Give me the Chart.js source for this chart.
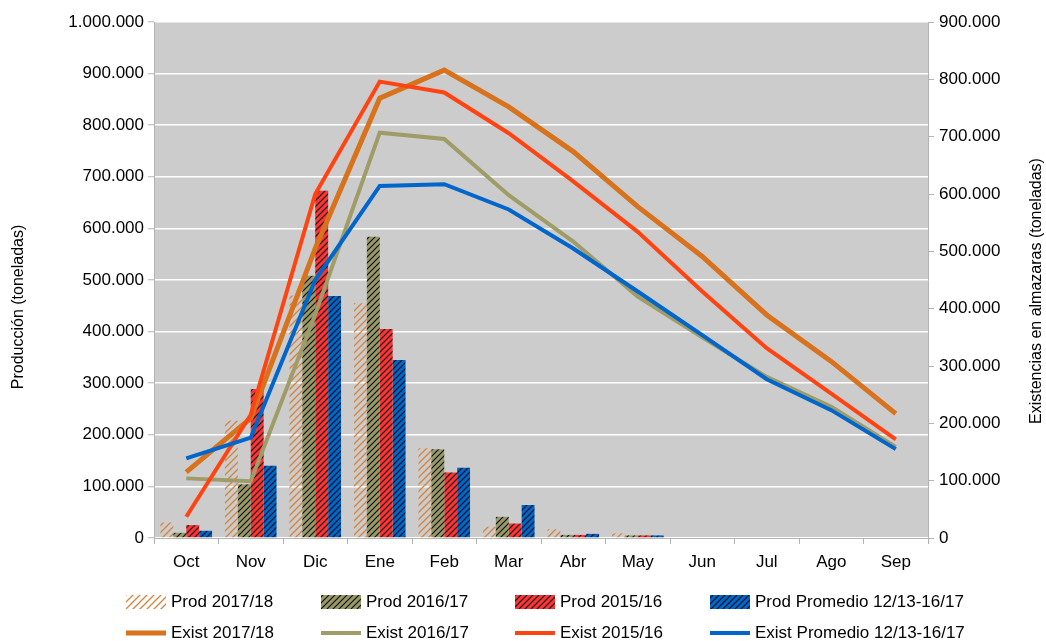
<!DOCTYPE html>
<html>
<head>
<meta charset="utf-8">
<script src="https://cdn.jsdelivr.net/npm/chart.js@4/dist/chart.umd.min.js"></script>
<style>
  html, body { margin: 0; padding: 0; background: #fff; }
  #wrap { width: 1046px; height: 641px; }
</style>
</head>
<body>
<div id="wrap"><canvas id="grafico" width="1046" height="641"></canvas></div>
<script>
const meses = ['Oct', 'Nov', 'Dic', 'Ene', 'Feb', 'Mar', 'Abr', 'May', 'Jun', 'Jul', 'Ago', 'Sep'];

// produccion (eje izquierdo)
const prod1718 = [30000, 227000, 470000, 455000, 174000, 22000, 17000, 9000, null, null, null, null];
const prod1617 = [10000, 104000, 508000, 584000, 172000, 41000, 6000, 5000, null, null, null, null];
const prod1516 = [25000, 289000, 673000, 405000, 127000, 28000, 6000, 5000, null, null, null, null];
const prodPromedio = [14000, 140000, 469000, 345000, 136000, 64000, 8000, 5000, null, null, null, null];

// existencias (eje derecho)
const exist1718 = [115000, 209000, 505000, 767000, 816000, 752000, 674000, 578000, 491000, 389000, 308000, 217000];
const exist1617 = [104000, 99000, 390000, 707000, 696000, 598000, 517000, 421000, 350000, 281000, 229000, 159000];
const exist1516 = [37000, 215000, 600000, 796000, 777000, 706000, 622000, 534000, 430000, 331000, 252000, 172000];
const existPromedio = [139000, 175000, 450000, 614000, 617000, 573000, 505000, 430000, 354000, 277000, 223000, 155000];

const ticksIzq = { min: 0, max: 1000000, step: 100000 };
const ticksDer = { min: 0, max: 900000, step: 100000 };

function miles(v) {
    return String(v).replace(/\B(?=(\d{3})+(?!\d))/g, '.');
}

function rayado(fondo, color, size, lw) {
    const c = document.createElement('canvas');
    c.width = c.height = size;
    const x = c.getContext('2d');
    if (fondo) {
        x.fillStyle = fondo;
        x.fillRect(0, 0, size, size);
    }
    x.strokeStyle = color;
    x.lineWidth = lw;
    x.beginPath();
    x.moveTo(0, size); x.lineTo(size, 0);
    x.moveTo(-size / 2, size / 2); x.lineTo(size / 2, -size / 2);
    x.moveTo(size / 2, size * 1.5); x.lineTo(size * 1.5, size / 2);
    x.stroke();
    return x.createPattern(c, 'repeat');
}

const FONT = "'Liberation Sans', Arial, sans-serif";
Chart.defaults.font.family = FONT;
Chart.defaults.font.size = 17;
Chart.defaults.color = '#000';

const fondoPlot = {
    id: 'fondoPlot',
    beforeDraw(chart) {
        const { ctx, chartArea: a } = chart;
        ctx.save();
        ctx.fillStyle = '#cccccc';
        ctx.fillRect(a.left, a.top, a.right - a.left, a.bottom - a.top);
        ctx.restore();
    }
};

const titulosEjes = {
    id: 'titulosEjes',
    afterDraw(chart) {
        const ctx = chart.ctx;
        ctx.save();
        ctx.font = '16px ' + FONT;
        ctx.fillStyle = '#000';
        ctx.textAlign = 'center';
        ctx.textBaseline = 'middle';
        ctx.translate(19, 307);
        ctx.rotate(-Math.PI / 2);
        ctx.fillText('Producción (toneladas)', 0, 0);
        ctx.restore();
        ctx.save();
        ctx.font = '16px ' + FONT;
        ctx.fillStyle = '#000';
        ctx.textAlign = 'center';
        ctx.textBaseline = 'middle';
        ctx.translate(1037, 291);
        ctx.rotate(-Math.PI / 2);
        ctx.fillText('Existencias en almazaras (toneladas)', 0, 0);
        ctx.restore();
    }
};

// leyenda en rejilla de 4 columnas, como la original
const leyenda = {
    id: 'leyenda',
    afterDraw(chart) {
        const ctx = chart.ctx;
        const cols = [126, 321, 515, 710];
        const filas = [602, 633];
        ctx.save();
        ctx.font = '17px ' + FONT;
        ctx.textBaseline = 'middle';
        ctx.textAlign = 'left';
        chart.data.datasets.forEach((ds, n) => {
            const x = cols[n % 4];
            const y = filas[Math.floor(n / 4)];
            if (ds.type === 'line') {
                ctx.strokeStyle = ds.borderColor;
                ctx.lineWidth = ds.borderWidth;
                ctx.beginPath();
                ctx.moveTo(x, y);
                ctx.lineTo(x + 40, y);
                ctx.stroke();
            } else {
                ctx.fillStyle = ds.backgroundColor;
                ctx.fillRect(x, y - 7, 40, 14);
            }
            ctx.fillStyle = '#000';
            ctx.fillText(ds.label, x + 45, y);
        });
        ctx.restore();
    }
};

const ctx = document.getElementById('grafico').getContext('2d');

const grafico = new Chart(ctx, {
    data: {
        labels: meses,
        datasets: [
            { type: 'bar', label: 'Prod 2017/18', data: prod1718, yAxisID: 'y', order: 10,
              backgroundColor: rayado(null, '#d4843f', 7, 1.3) },
            { type: 'bar', label: 'Prod 2016/17', data: prod1617, yAxisID: 'y', order: 10,
              backgroundColor: rayado('#999966', '#111', 6, 1.2) },
            { type: 'bar', label: 'Prod 2015/16', data: prod1516, yAxisID: 'y', order: 10,
              backgroundColor: rayado('#ff3333', '#111', 6, 1.2) },
            { type: 'bar', label: 'Prod Promedio 12/13-16/17', data: prodPromedio, yAxisID: 'y', order: 10,
              backgroundColor: rayado('#0066cc', '#111', 6, 1.2) },
            { type: 'line', label: 'Exist 2017/18', data: exist1718, yAxisID: 'y1', order: 4,
              borderColor: '#d8721c', borderWidth: 5, pointRadius: 0, tension: 0, fill: false },
            { type: 'line', label: 'Exist 2016/17', data: exist1617, yAxisID: 'y1', order: 3,
              borderColor: '#9f9c68', borderWidth: 4, pointRadius: 0, tension: 0, fill: false },
            { type: 'line', label: 'Exist 2015/16', data: exist1516, yAxisID: 'y1', order: 2,
              borderColor: '#ff4411', borderWidth: 4, pointRadius: 0, tension: 0, fill: false },
            { type: 'line', label: 'Exist Promedio 12/13-16/17', data: existPromedio, yAxisID: 'y1', order: 1,
              borderColor: '#0066cc', borderWidth: 4, pointRadius: 0, tension: 0, fill: false }
        ]
    },
    options: {
        responsive: false,
        animation: false,
        datasets: { bar: { categoryPercentage: 0.8, barPercentage: 1.0, borderWidth: 0 } },
        layout: { padding: { top: 22, bottom: 63, left: 0, right: 0 } },
        plugins: {
            legend: { display: false },
            tooltip: { enabled: false }
        },
        scales: {
            x: {
                offset: true,
                grid: { offset: true, drawOnChartArea: false, tickLength: 6, tickColor: '#b3b3b3' },
                border: { color: '#b3b3b3' },
                ticks: { maxRotation: 0, padding: 8 },
                afterFit(s) { s.height = 40; }
            },
            y: {
                position: 'left',
                min: ticksIzq.min,
                max: ticksIzq.max,
                grid: { color: '#ffffff', lineWidth: 1.5, tickLength: 6, tickColor: '#b3b3b3', tickWidth: 1 },
                border: { color: '#b3b3b3' },
                ticks: { stepSize: ticksIzq.step, padding: 4, callback: v => miles(v) },
                afterFit(s) { s.width = 154; }
            },
            y1: {
                position: 'right',
                min: ticksDer.min,
                max: ticksDer.max,
                grid: { drawOnChartArea: false, tickLength: 6, tickColor: '#b3b3b3' },
                border: { color: '#b3b3b3' },
                ticks: { stepSize: ticksDer.step, padding: 5, callback: v => miles(v) },
                afterFit(s) { s.width = 118; }
            }
        }
    },
    plugins: [fondoPlot, titulosEjes, leyenda]
});
</script>
</body>
</html>
